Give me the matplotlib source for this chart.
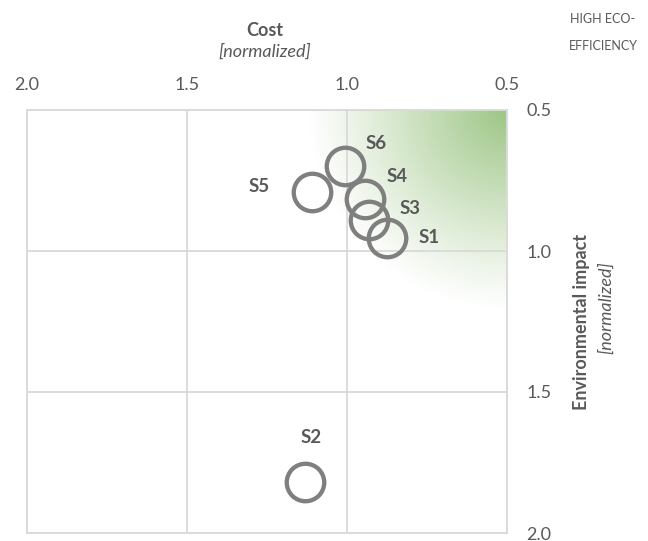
import numpy as np
import matplotlib
matplotlib.use('Agg')
import matplotlib.pyplot as plt
from matplotlib.colors import to_rgb

plt.rcParams['font.family'] = ['Lato', 'DejaVu Sans']

# scenario data (normalized cost vs. environmental impact)
names = ['S1', 'S2', 'S3', 'S4', 'S5', 'S6']
cost = [0.875, 1.13, 0.93, 0.945, 1.11, 1.005]
impact = [0.955, 1.82, 0.89, 0.815, 0.79, 0.70]
# label offsets in pixels (dx, dy)
offsets = {'S1': (42, 1), 'S2': (6, 45), 'S3': (41, 11),
           'S4': (33, 22), 'S5': (-53, 5), 'S6': (31, 23)}
ticks = [0.5, 1.0, 1.5, 2.0]

grey = '#595959'
W, H = 648, 541
fig = plt.figure(figsize=(W / 100, H / 100), dpi=100)
ax_l, ax_r, ax_t, ax_b = 27, 507, 110, 533
ax = fig.add_axes([ax_l / W, 1 - ax_b / H, (ax_r - ax_l) / W, (ax_b - ax_t) / H])

ax.set_xlim(2.0, 0.5)
ax.set_ylim(2.0, 0.5)

# green "high eco-efficiency" corner gradient
pw, ph = ax_r - ax_l, ax_b - ax_t
xx, yy = np.meshgrid(np.arange(pw) + 0.5, np.arange(ph) + 0.5)
d = np.hypot(pw - xx, yy)
t = np.clip(d / 200.0, 0, 1)
alpha = (1 - t) ** 1.1
img = np.zeros((ph, pw, 4))
img[..., :3] = to_rgb('#9cc584')
img[..., 3] = alpha
ax.imshow(img, extent=[2.0, 0.5, 2.0, 0.5], origin='upper', aspect='auto',
          zorder=0, interpolation='bilinear')

ax.set_xticks(ticks)
ax.set_yticks(ticks)
ax.set_xticklabels([f'{v:.1f}' for v in ticks])
ax.set_yticklabels([f'{v:.1f}' for v in ticks])
ax.xaxis.tick_top()
ax.yaxis.tick_right()
ax.tick_params(axis='x', length=0, pad=12, labelsize=13, labelcolor=grey)
ax.tick_params(axis='y', length=0, pad=14, labelsize=13, labelcolor=grey)
ax.grid(True, color='#d9d9d9', lw=1.3, zorder=1)
ax.set_axisbelow(False)
for s in ax.spines.values():
    s.set_color('#d9d9d9')
    s.set_linewidth(1.3)

ax.plot(cost, impact, 'o', mfc='none', mec='#7f7f7f', ms=27, mew=3.1,
        zorder=3, clip_on=False)
for n, x, y in zip(names, cost, impact):
    dx, dy = offsets[n]
    ax.annotate(n, (x, y), xytext=(dx, dy), textcoords='offset pixels',
                ha='center', va='center', fontsize=13.5, fontweight='bold',
                color=grey, zorder=4)

def ft(x, y, s, **kw):
    fig.text(x / W, 1 - y / H, s, ha='center', va='center', color=grey, **kw)

ft(265, 31, 'Cost', fontsize=13, fontweight='bold')
ft(265, 52, '[normalized]', fontsize=13, style='italic')
ft(603, 19, 'HIGH ECO-', fontsize=9)
ft(603, 46, 'EFFICIENCY', fontsize=9)
ft(582, 322, 'Environmental impact', fontsize=13, fontweight='bold', rotation=90)
ft(606, 308, '[normalized]', fontsize=13, style='italic', rotation=90)

fig.savefig('out.png', dpi=100)
